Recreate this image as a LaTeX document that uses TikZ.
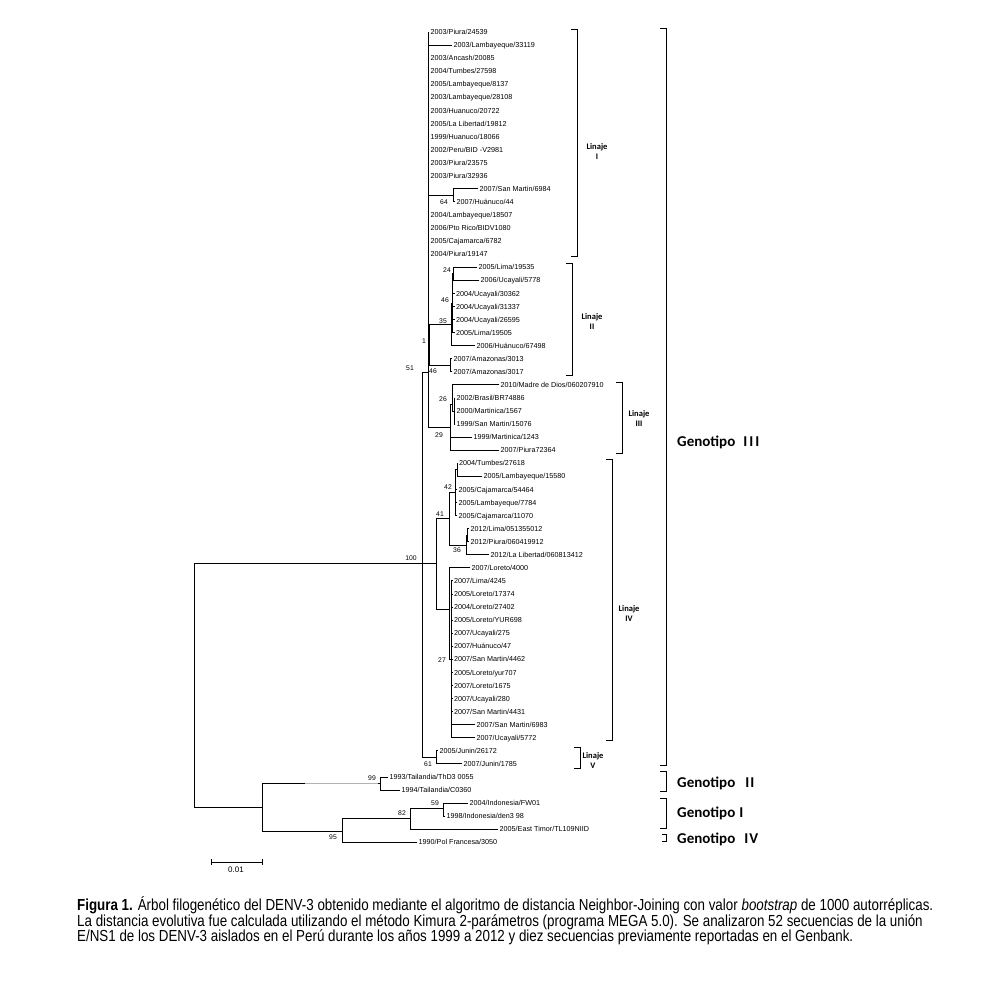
\documentclass[tikz,border=0pt]{standalone}
\usepackage{fontspec}
\setmainfont{Liberation Sans}
\newfontfamily\genf{Carlito}
\newfontfamily\capf[FakeStretch=0.835]{Liberation Sans}
\newcommand\lf[5]{\node[leaf] (#1) at (#3,#4) {#5}; \draw[br] (#2 |- #1.west) -- (#1.west);}
\newcommand\inode[4]{\coordinate (#1) at (#3,#4); \draw[br] (#2 |- #1) -- (#1);}
\newcommand\vl[3]{\draw[br] (#1 |- 0,#2) -- (#1 |- 0,#3);}
\tikzset{
  br/.style={line width=0.9pt, line cap=rect},
  leaf/.style={anchor=west, inner xsep=1.5pt, inner ysep=0pt, text height=5.2pt, text depth=0pt, font=\fontsize{7.2}{8}\selectfont},
  bs/.style={inner sep=0pt, font=\fontsize{6.8}{8}\selectfont},
  lin/.style={inner sep=0pt, align=center, font=\genf\bfseries\fontsize{8.5}{10}\selectfont},
  gen/.style={anchor=west, inner sep=0pt, font=\genf\bfseries\fontsize{15}{17}\selectfont},
  brk/.style={line width=0.9pt},
  capl/.style={anchor=base west, inner sep=0pt, font=\capf\fontsize{16}{18}\selectfont}
}
\begin{document}
\begin{tikzpicture}[x=1pt,y=-1pt]
\useasboundingbox[fill=white] (0,0) rectangle (983,985);
% ---------- internal nodes ----------
\coordinate (R) at (194,685);
\inode{G3}{R}{422}{563}
\inode{O}{R}{262}{807}
\inode{G2}{O}{380}{783}
\inode{N95}{O}{342}{831}
\inode{N82}{N95}{410}{818}
\inode{N59}{N82}{443}{808.5}
\inode{N51}{G3}{428}{372}
\inode{L1}{N51}{428}{143}
\inode{N64}{L1}{453}{195.4}
\inode{N1}{N51}{429.5}{344.8}
\inode{N35}{N1}{451}{324.4}
\inode{N46}{N35}{452.5}{303}
\inode{N24}{N46}{453.5}{273.8}
\inode{NA}{N1}{450.5}{365.3}
\inode{N29}{N51}{450.5}{427.4}
\inode{N26}{N29}{452.5}{404.5}
\inode{N26a}{N26}{454}{411}
\inode{L4}{G3}{436}{563}
\inode{N41}{L4}{449}{518.9}
\inode{N42}{N41}{455.5}{492.7}
\inode{N42a}{N42}{457}{469.8}
\inode{N36}{N41}{466.5}{545}
\inode{N36a}{N36}{467.5}{535.2}
\inode{N27a}{L4}{449.5}{609}
\inode{N27}{N27a}{451}{659.4}
\inode{L5}{G3}{436}{757.4}
% ---------- leaves ----------
\lf{t1}{L1}{429}{32.0}{2003/Piura/24539}
\lf{t2}{L1}{452}{45.07}{2003/Lambayeque/33119}
\lf{t3}{L1}{429}{58.14}{2003/Ancash/20085}
\lf{t4}{L1}{429}{71.21}{2004/Tumbes/27598}
\lf{t5}{L1}{429}{84.28}{2005/Lambayeque/8137}
\lf{t6}{L1}{429}{97.35}{2003/Lambayeque/28108}
\lf{t7}{L1}{429}{110.42}{2003/Huanuco/20722}
\lf{t8}{L1}{429}{123.49}{2005/La Libertad/19812}
\lf{t9}{L1}{429}{136.56}{1999/Huanuco/18066}
\lf{t10}{L1}{429}{149.63}{2002/Peru/BID -V2981}
\lf{t11}{L1}{429}{162.7}{2003/Piura/23575}
\lf{t12}{L1}{429}{175.77}{2003/Piura/32936}
\lf{t13}{N64}{478}{188.84}{2007/San Martin/6984}
\lf{t14}{N64}{455}{201.91}{2007/Huánuco/44}
\lf{t15}{L1}{429}{214.98}{2004/Lambayeque/18507}
\lf{t16}{L1}{429}{228.05}{2006/Pto Rico/BIDV1080}
\lf{t17}{L1}{429}{241.12}{2005/Cajamarca/6782}
\lf{t18}{L1}{429}{254.19}{2004/Piura/19147}
\lf{t19}{N24}{477}{267.26}{2005/Lima/19535}
\lf{t20}{N24}{479}{280.33}{2006/Ucayali/5778}
\lf{t21}{N46}{454.5}{293.4}{2004/Ucayali/30362}
\lf{t22}{N46}{454.5}{306.47}{2004/Ucayali/31337}
\lf{t23}{N46}{454.5}{319.54}{2004/Ucayali/26595}
\lf{t24}{N46}{454.5}{332.61}{2005/Lima/19505}
\lf{t25}{N35}{475}{345.68}{2006/Huánuco/67498}
\lf{t26}{NA}{452}{358.75}{2007/Amazonas/3013}
\lf{t27}{NA}{452}{371.82}{2007/Amazonas/3017}
\lf{t28}{N26}{499}{384.89}{2010/Madre de Dios/060207910}
\lf{t29}{N26a}{455}{397.96}{2002/Brasil/BR74886}
\lf{t30}{N26a}{455}{411.03}{2000/Martinica/1567}
\lf{t31}{N26a}{455}{424.1}{1999/San Martin/15076}
\lf{t32}{N29}{472}{437.17}{1999/Martinica/1243}
\lf{t33}{N29}{499}{450.24}{2007/Piura72364}
\lf{t34}{N42a}{457.5}{463.31}{2004/Tumbes/27618}
\lf{t35}{N42a}{482}{476.38}{2005/Lambayeque/15580}
\lf{t36}{N42}{457}{489.45}{2005/Cajamarca/54464}
\lf{t37}{N42}{457}{502.52}{2005/Lambayeque/7784}
\lf{t38}{N42}{457}{515.59}{2005/Cajamarca/11070}
\lf{t39}{N36a}{469}{528.66}{2012/Lima/051355012}
\lf{t40}{N36a}{469}{541.73}{2012/Piura/060419912}
\lf{t41}{N36}{489}{554.8}{2012/La Libertad/060813412}
\lf{t42}{N27a}{470}{567.87}{2007/Loreto/4000}
\lf{t43}{N27}{452.5}{580.94}{2007/Lima/4245}
\lf{t44}{N27}{452.5}{594.01}{2005/Loreto/17374}
\lf{t45}{N27}{452.5}{607.08}{2004/Loreto/27402}
\lf{t46}{N27}{452.5}{620.15}{2005/Loreto/YUR698}
\lf{t47}{N27}{452.5}{633.22}{2007/Ucayali/275}
\lf{t48}{N27}{452.5}{646.29}{2007/Huánuco/47}
\lf{t49}{N27}{452.5}{659.36}{2007/San Martin/4462}
\lf{t50}{N27}{452.5}{672.43}{2005/Loreto/yur707}
\lf{t51}{N27}{452.5}{685.5}{2007/Loreto/1675}
\lf{t52}{N27}{452.5}{698.57}{2007/Ucayali/280}
\lf{t53}{N27}{452.5}{711.64}{2007/San Martin/4431}
\lf{t54}{N27}{475}{724.71}{2007/San Martin/6983}
\lf{t55}{N27}{475}{737.78}{2007/Ucayali/5772}
\lf{t56}{L5}{438}{750.85}{2005/Junin/26172}
\lf{t57}{L5}{462}{763.92}{2007/Junin/1785}
\lf{t58}{G2}{388}{776.99}{1993/Tailandia/ThD3 0055}
\lf{t59}{G2}{400}{790.06}{1994/Tailandia/C0360}
\lf{t60}{N59}{468}{803.13}{2004/Indonesia/FW01}
\lf{t61}{N59}{445}{816.2}{1998/Indonesia/den3 98}
\lf{t62}{N82}{498}{829.27}{2005/East Timor/TL109NIID}
\lf{t63}{N95}{417}{842.34}{1990/Pol Francesa/3050}
\draw[line width=0.9pt, gray!60] (305,783) -- (378,783);
% ---------- verticals ----------
\vl{R}{563}{807}
\vl{O}{783}{831}
\vl{G2}{776.99}{790.06}
\vl{N95}{818}{842.34}
\vl{N82}{808.5}{829.27}
\vl{N59}{803.13}{816.2}
\vl{G3}{372}{757.4}
\vl{N51}{143}{427.4}
\vl{L1}{32}{254.19}
\vl{N64}{188.84}{201.91}
\vl{N1}{324.4}{365.3}
\vl{N35}{303}{345.68}
\vl{N46}{273.8}{332.61}
\vl{N24}{267.26}{280.33}
\vl{NA}{358.75}{371.82}
\vl{N29}{404.5}{450.24}
\vl{N26}{384.89}{411}
\vl{N26a}{397.96}{424.1}
\vl{L4}{518.9}{609}
\vl{N41}{492.7}{545}
\vl{N42}{469.8}{515.59}
\vl{N42a}{463.31}{476.38}
\vl{N36}{535.2}{554.8}
\vl{N36a}{528.66}{541.73}
\vl{N27a}{567.87}{659.4}
\vl{N27}{580.94}{737.78}
\vl{L5}{750.85}{763.92}
% ---------- bootstrap values ----------
\node[bs] (b100) at (411,558) {100};
\node[bs] (b51) at (410,368) {51};
\node[bs] (b1) at (424,341) {1};
\node[bs] (b24) at (447,270) {24};
\node[bs] (b46a) at (445,300) {46};
\node[bs] (b35) at (443,321) {35};
\node[bs] (b46b) at (433,371) {46};
\node[bs] (b64) at (444,202) {64};
\node[bs] (b26) at (443,399) {26};
\node[bs] (b29) at (439,435) {29};
\node[bs] (b42) at (448,487) {42};
\node[bs] (b41) at (440,514) {41};
\node[bs] (b36) at (457,550) {36};
\node[bs] (b27) at (442,660) {27};
\node[bs] (b61) at (428,764) {61};
\node[bs] (b99) at (372,778) {99};
\node[bs] (b59) at (435,803) {59};
\node[bs] (b82) at (402,813) {82};
\node[bs] (b95) at (333,837) {95};
% ---------- lineage brackets ----------
\draw[brk] (571,29) -- (577,29) -- (577,256) -- (571,256);
\node[lin] (lin1) at (597,152) {Linaje\\I};
\draw[brk] (566,263) -- (572,263) -- (572,375) -- (566,375);
\node[lin] (lin2) at (592,322) {Linaje\\II};
\draw[brk] (616,382) -- (622,382) -- (622,453) -- (616,453);
\node[lin] (lin3) at (639,419) {Linaje\\III};
\draw[brk] (606,459) -- (612,459) -- (612,740) -- (606,740);
\node[lin] (lin4) at (629,614) {Linaje\\IV};
\draw[brk] (574,747) -- (580,747) -- (580,768) -- (574,768);
\node[lin] (lin5) at (593,761) {Linaje\\V};
% ---------- genotype brackets ----------
\draw[brk] (660,28) -- (666,28) -- (666,765) -- (660,765);
\node[gen] (g3) at (677,442) {Genotipo\hspace{8pt}I\hspace{2pt}I\hspace{2pt}I};
\draw[brk] (660,771) -- (666,771) -- (666,791) -- (660,791);
\node[gen] (g2) at (677,783) {Genotipo\hspace{10pt}I\hspace{1pt}I};
\draw[brk] (660,798) -- (666,798) -- (666,828) -- (660,828);
\node[gen] (g1) at (677,813) {Genotipo\hspace{4pt}I};
\draw[brk] (662,834) -- (666,834) -- (666,841) -- (662,841);
\node[gen] (g4) at (677,839) {Genotipo\hspace{9pt}I\hspace{1pt}V};
% ---------- scale bar ----------
\coordinate (s1) at (211,862);
\coordinate (s2) at (262,862);
\draw[brk] (s1) -- (s2);
\draw[brk] ([yshift=-3pt]s1) -- ([yshift=3pt]s1);
\draw[brk] ([yshift=-3pt]s2) -- ([yshift=3pt]s2);
\node[inner sep=0pt, font=\fontsize{8}{9}\selectfont] (sl) at (236,870) {0.01};
% ---------- caption ----------
\node[capl] (c1) at (77,910.5) {\textbf{Figura 1.} Árbol filogenético del DENV-3 obtenido mediante el algoritmo de distancia Neighbor-Joining con valor \textit{bootstrap} de 1000 autorréplicas.};
\node[capl] (c2) at (77,926) {La distancia evolutiva fue calculada utilizando el método Kimura 2-parámetros (programa MEGA 5.0). Se analizaron 52 secuencias de la unión};
\node[capl] (c3) at (77,941.5) {E/NS1 de los DENV-3 aislados en el Perú durante los años 1999 a 2012 y diez secuencias previamente reportadas en el Genbank.};
\end{tikzpicture}
\end{document}
